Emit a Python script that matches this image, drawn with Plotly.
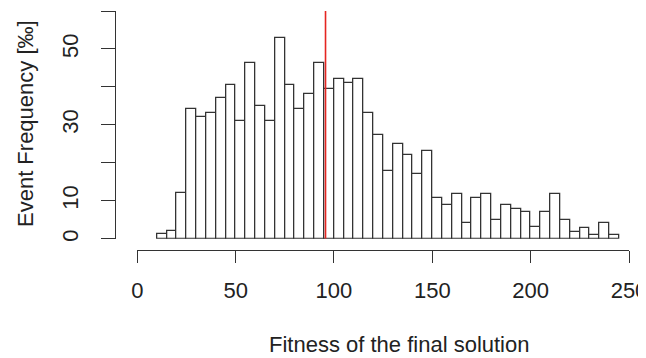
import plotly.graph_objects as go

# Histogram data (bin width 5, left edges) in per-mille
bin_left = [10, 15, 20, 25, 30, 35, 40, 45, 50, 55, 60, 65, 70, 75, 80, 85, 90, 95,
            100, 105, 110, 115, 120, 125, 130, 135, 140, 145, 150, 155, 160, 165,
            170, 175, 180, 185, 190, 195, 200, 205, 210, 215, 220, 225, 230, 235, 240]
frequency = [1.2, 2.0, 12.0, 34.1, 32.1, 33.2, 37.1, 40.4, 31.1, 46.3, 35.1, 31.1,
             53.0, 40.4, 34.1, 38.1, 46.3, 39.4, 42.2, 41.0, 42.2, 33.2, 27.3, 17.9,
             25.0, 22.1, 17.2, 23.1, 10.8, 8.9, 11.9, 4.1, 10.8, 11.9, 4.9, 8.9,
             7.9, 7.1, 3.0, 7.1, 11.9, 4.9, 1.7, 2.8, 1.1, 4.1, 1.1]
bin_width = 5
mean_line = 95.7

x_ticks = [0, 50, 100, 150, 200, 250]
y_ticks = [0, 10, 20, 30, 40, 50, 60]
y_ticktext = ["0", "10", "", "30", "", "50", ""]

W, H = 646, 358
OFF = 8  # default body margin of the page
FONT = "Liberation Sans, Arial, sans-serif"
AX = "#333333"
TXT = "#222222"
FS = 22


def px_x(p):
    return (p - OFF) / W


def px_y(p):
    return (H - (p - OFF)) / H


centers = [b + bin_width / 2 for b in bin_left]

fig = go.Figure()
fig.add_trace(go.Bar(
    x=centers, y=frequency, width=[bin_width] * len(centers),
    marker=dict(color="white", line=dict(color="#333333", width=1.3)),
    showlegend=False, hoverinfo="skip",
))

fig.add_shape(type="line", xref="x", yref="y", x0=mean_line, x1=mean_line,
              y0=0, y1=60, line=dict(color="#e52521", width=1.6))

fig.update_layout(
    width=W, height=H,
    margin=dict(l=0, r=0, t=0, b=0, autoexpand=False),
    paper_bgcolor="white", plot_bgcolor="white",
    bargap=0,
    font=dict(family=FONT, size=FS, color=TXT),
    xaxis=dict(
        domain=[px_x(137.3), px_x(629)], range=[0, 250],
        anchor="free", position=px_y(249.5), automargin=False,
        tickvals=x_ticks, ticks="outside", ticklen=12, tickwidth=1.2, tickcolor=AX,
        showline=True, linecolor=AX, linewidth=1.2,
        showgrid=False, zeroline=False, ticklabelstandoff=9,
        tickfont=dict(size=FS, color=TXT),
    ),
    yaxis=dict(
        domain=[px_y(238.8), px_y(11)], range=[0, 60],
        anchor="free", position=px_x(115), automargin=False,
        tickvals=y_ticks, ticktext=y_ticktext, tickangle=-90,
        ticks="outside", ticklen=14, tickwidth=1.2, tickcolor=AX,
        showline=True, linecolor=AX, linewidth=1.2,
        showgrid=False, zeroline=False, ticklabelstandoff=14,
        tickfont=dict(size=FS, color=TXT),
    ),
    annotations=[
        dict(text="Fitness of the final solution", xref="paper", yref="paper",
             x=px_x(399), y=px_y(344), showarrow=False,
             xanchor="center", yanchor="middle", font=dict(size=FS, color=TXT)),
        dict(text="Event Frequency [‰]", xref="paper", yref="paper",
             x=px_x(25), y=px_y(124), showarrow=False, textangle=-90,
             xanchor="center", yanchor="middle", font=dict(size=FS, color=TXT)),
    ],
)

fig.write_html("out.html")
